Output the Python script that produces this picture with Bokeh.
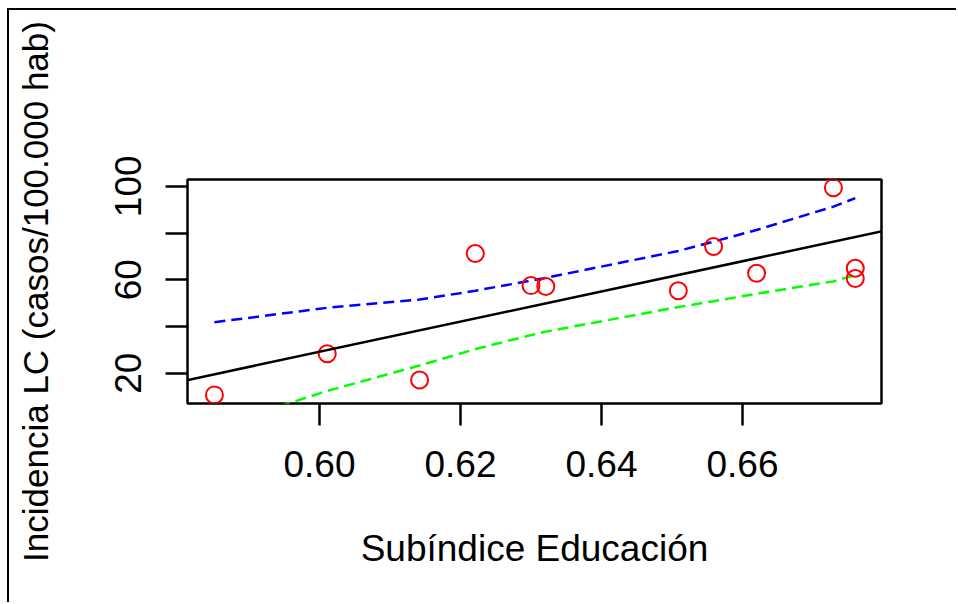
from bokeh.plotting import figure
from bokeh.models import FixedTicker, Range1d, Slope
from bokeh.embed import file_html
from bokeh.resources import INLINE

# ---- data ----
educ = [0.5851, 0.6011, 0.6142, 0.6221, 0.6300, 0.6321, 0.6509, 0.6559, 0.6620, 0.6729, 0.6760, 0.6760]
incid = [10.7, 28.3, 17.1, 71.2, 57.5, 57.1, 55.3, 74.2, 62.8, 99.4, 64.9, 60.5]

band_x = [0.5851, 0.6011, 0.6142, 0.6221, 0.6300, 0.6321, 0.6509, 0.6559, 0.6620, 0.6729, 0.6760]
upper = [41.8, 48.0, 51.5, 55.3, 59.6, 60.8, 72.3, 76.3, 81.3, 91.3, 94.9]
lower = [-3.0, 12.4, 23.3, 30.3, 36.3, 37.8, 48.3, 50.8, 54.0, 59.3, 62.0]

fit_slope = 646.1
fit_intercept = -358.5

x_ticks = [0.60, 0.62, 0.64, 0.66]
x_tick_labels = ["0.60", "0.62", "0.64", "0.66"]
y_ticks = [20, 40, 60, 80, 100]
y_tick_labels = ["20", "", "60", "", "100"]

x_label = "Subíndice Educación"
y_label = "Incidencia LC (casos/100.000 hab)"

FONT = "Liberation Sans"

# canvas starts at (9, 10) inside the page because of the outer frame
p = figure(width=949, height=594, output_backend="svg", toolbar_location=None,
           x_range=Range1d(0.58128, 0.67972), y_range=Range1d(7.03, 102.9),
           min_border_left=178, min_border_right=77, min_border_top=169, min_border_bottom=201)
p.margin = (8, 0, 0, 7)
p.styles = {"border-top": "2px solid black", "border-left": "2px solid black"}

p.background_fill_color = "white"
p.border_fill_color = "white"
p.outline_line_color = "black"
p.outline_line_width = 2.5
p.xgrid.grid_line_color = None
p.ygrid.grid_line_color = None

for ax in (p.xaxis[0], p.yaxis[0]):
    ax.axis_line_color = None
    ax.major_tick_line_color = "black"
    ax.major_tick_line_width = 2.5
    ax.major_tick_out = 22
    ax.major_tick_in = 0
    ax.minor_tick_line_color = None
    ax.major_label_text_font = FONT
    ax.major_label_text_font_size = "37px"
    ax.major_label_text_color = "black"
    ax.axis_label_text_font = FONT
    ax.axis_label_text_font_style = "normal"
    ax.axis_label_text_color = "black"

p.xaxis.ticker = FixedTicker(ticks=x_ticks)
p.xaxis.major_label_overrides = {t: l for t, l in zip(x_ticks, x_tick_labels)}
p.xaxis.major_label_standoff = 25
p.xaxis.axis_label = x_label
p.xaxis.axis_label_text_font_size = "37px"
p.xaxis.axis_label_standoff = 48

p.yaxis.ticker = FixedTicker(ticks=y_ticks)
p.yaxis.major_label_overrides = {t: l for t, l in zip(y_ticks, y_tick_labels)}
p.yaxis.major_label_orientation = "vertical"
p.yaxis.major_label_standoff = 24
p.yaxis.axis_label = y_label
p.yaxis.axis_label_text_font_size = "35px"
p.yaxis.axis_label_standoff = 58

# fitted line across the whole frame
p.add_layout(Slope(gradient=fit_slope, y_intercept=fit_intercept,
                   line_color="black", line_width=2.5))

# confidence band lines
p.line(band_x, upper, line_color="#0000FF", line_width=2.5, line_dash="11 6")
p.line(band_x, lower, line_color="#00FF00", line_width=2.5, line_dash="11 6")

# observations
p.scatter(educ, incid, marker="circle", size=17, fill_color=None,
          line_color="#FF0000", line_width=2)

open("out.html", "w").write(file_html(p, INLINE))
